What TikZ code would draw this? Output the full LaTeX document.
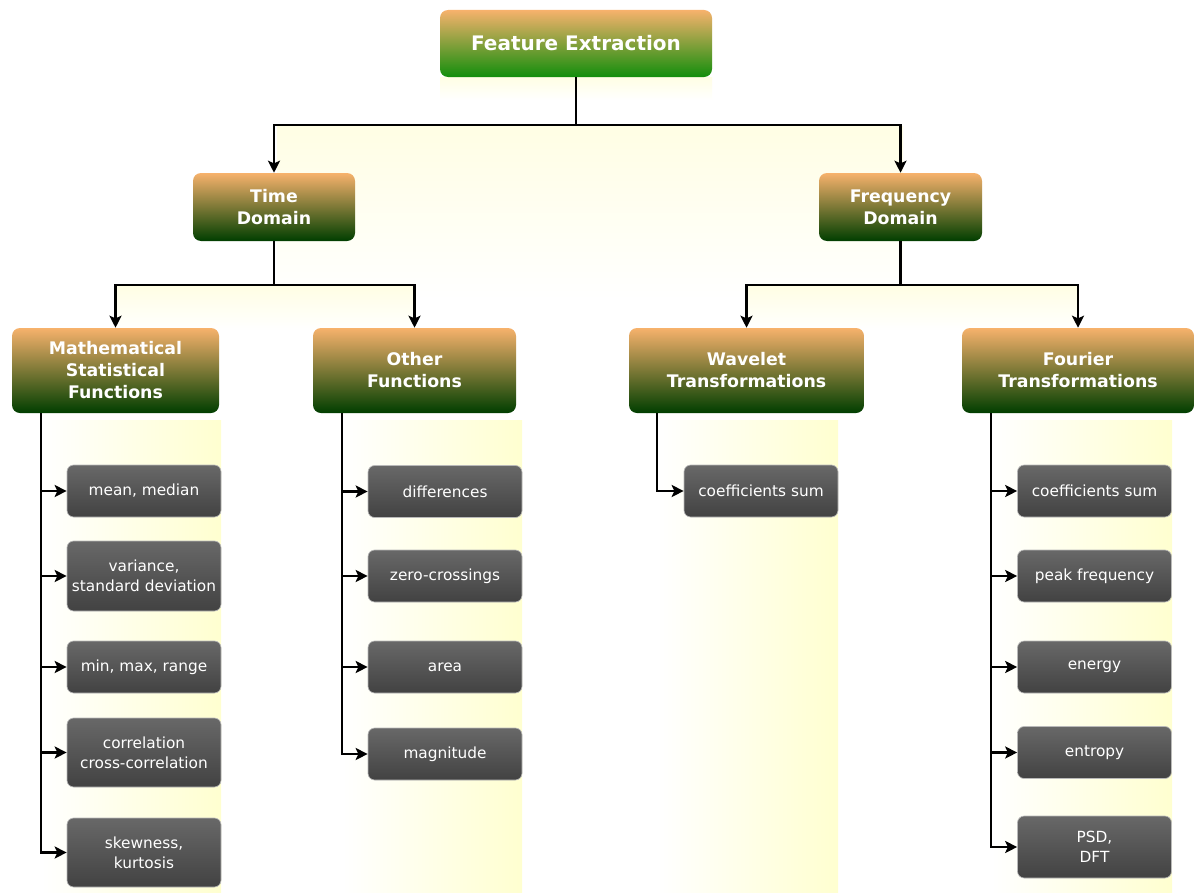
\documentclass[tikz,border=0pt]{standalone}
\usepackage{fontspec}
\setmainfont{DejaVu Sans}
\usetikzlibrary{arrows.meta}
\definecolor{orangetop}{RGB}{247,178,108}
\definecolor{greenbot}{RGB}{0,62,0}
\definecolor{topgreen}{RGB}{18,142,12}
\definecolor{leaftop}{RGB}{104,104,104}
\definecolor{leafbot}{RGB}{66,66,66}
\definecolor{glow}{RGB}{255,255,208}
\definecolor{faintglow}{RGB}{255,254,228}
\begin{document}
\begin{tikzpicture}[x=0.75pt,y=-0.75pt,
 rootbox/.style={rounded corners=6pt, top color=orangetop, bottom color=topgreen, text=white, font=\bfseries\fontsize{15}{18}\selectfont, inner sep=0pt},
 headbox/.style={rounded corners=6pt, top color=orangetop, bottom color=greenbot, text=white, font=\bfseries\fontsize{13}{16.5}\selectfont, align=center, inner sep=0pt},
 leafbox/.style={rounded corners=5pt, top color=leaftop, bottom color=leafbot, draw=gray!55, line width=0.5pt, text=white, font=\fontsize{11.5}{15}\selectfont, align=center, inner sep=0pt, minimum width=154*0.75pt},
 conn/.style={line width=1.9pt, black},
 arr/.style={conn, -{Stealth[length=9pt,width=9pt,inset=2pt]}},
]
\useasboundingbox (0,0) rectangle (1194,892);
\fill[white] (0,0) rectangle (1194,892);
% background glows
\shade[top color=faintglow, bottom color=white] (440,77) rectangle (712,100);
\shade[top color=faintglow, bottom color=white] (277,126) rectangle (903,300);
\shade[top color=faintglow, bottom color=white] (117,286) rectangle (414,330);
\shade[top color=faintglow, bottom color=white] (746,286) rectangle (1077,330);
\shade[left color=white, right color=glow] (42,420) rectangle (221,892);
\shade[left color=white, right color=glow] (343,420) rectangle (522,892);
\shade[left color=white, right color=glow] (658,420) rectangle (838,892);
\shade[left color=white, right color=glow] (992,420) rectangle (1172,892);

% nodes
\node[rootbox, minimum width=272*0.75pt, minimum height=67*0.75pt] (fe) at (576,43.5) {Feature Extraction};
\node[headbox, minimum width=162*0.75pt, minimum height=68*0.75pt] (td) at (274,207) {Time\\Domain};
\node[headbox, minimum width=163*0.75pt, minimum height=68*0.75pt] (fd) at (900.5,207) {Frequency\\Domain};
\node[headbox, minimum width=207*0.75pt, minimum height=85*0.75pt] (ms) at (115.5,370.5) {Mathematical\\Statistical\\Functions};
\node[headbox, minimum width=203*0.75pt, minimum height=85*0.75pt] (of) at (414.5,370.5) {Other\\Functions};
\node[headbox, minimum width=235*0.75pt, minimum height=85*0.75pt] (wt) at (746.5,370.5) {Wavelet\\Transformations};
\node[headbox, minimum width=232*0.75pt, minimum height=85*0.75pt] (ft) at (1078,370.5) {Fourier\\Transformations};

\node[leafbox, minimum height=52*0.75pt] (m1) at (144,491) {mean, median};
\node[leafbox, minimum height=70*0.75pt] (m2) at (144,576) {variance,\\standard deviation};
\node[leafbox, minimum height=52*0.75pt] (m3) at (144,667) {min, max, range};
\node[leafbox, minimum height=69*0.75pt] (m4) at (144,752.5) {correlation\\cross-correlation};
\node[leafbox, minimum height=69*0.75pt] (m5) at (144,852.5) {skewness,\\kurtosis};

\node[leafbox, minimum height=52*0.75pt] (o1) at (445,491.5) {differences};
\node[leafbox, minimum height=52*0.75pt] (o2) at (445,576) {zero-crossings};
\node[leafbox, minimum height=52*0.75pt] (o3) at (445,667) {area};
\node[leafbox, minimum height=52*0.75pt] (o4) at (445,754) {magnitude};

\node[leafbox, minimum height=52*0.75pt] (w1) at (761,491) {coefficients sum};

\node[leafbox, minimum height=52*0.75pt] (f1) at (1094.5,491) {coefficients sum};
\node[leafbox, minimum height=52*0.75pt] (f2) at (1094.5,576) {peak frequency};
\node[leafbox, minimum height=52*0.75pt] (f3) at (1094.5,667) {energy};
\node[leafbox, minimum height=52*0.75pt] (f4) at (1094.5,752.5) {entropy};
\node[leafbox, minimum height=62*0.75pt] (f5) at (1094.5,847) {PSD,\\DFT};

% junctions
\coordinate (j0) at (576,125);
\coordinate (j1) at (274,285);
\coordinate (j2) at (900.5,285);
\coordinate (msv) at (41,413);
\coordinate (ofv) at (342,413);
\coordinate (wtv) at (657,413);
\coordinate (ftv) at (991,413);

% connectors
\draw[conn] (fe.south) -- (j0);
\draw[arr] (j0) -| (td.north);
\draw[arr] (j0) -| (fd.north);
\draw[conn] (td.south) -- (j1);
\draw[arr] (j1) -| (ms.north);
\draw[arr] (j1) -| (of.north);
\draw[conn] (fd.south) -- (j2);
\draw[arr] (j2) -| (wt.north);
\draw[arr] (j2) -| (ft.north);

\foreach \n in {m1,m2,m3,m4,m5} \draw[arr] (msv) |- (\n.west);
\foreach \n in {o1,o2,o3,o4} \draw[arr] (ofv) |- (\n.west);
\draw[arr] (wtv) |- (w1.west);
\foreach \n in {f1,f2,f3,f4,f5} \draw[arr] (ftv) |- (\n.west);
\end{tikzpicture}
\end{document}
